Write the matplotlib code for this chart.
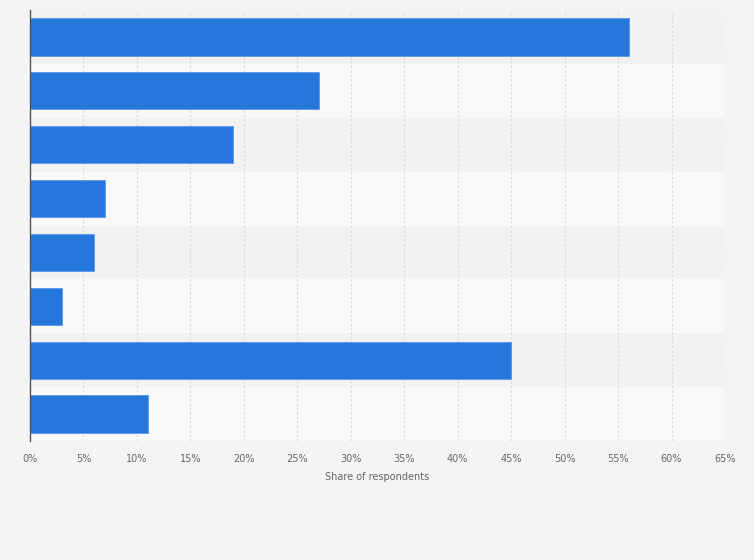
import numpy as np
import matplotlib
matplotlib.use("Agg")
import matplotlib.pyplot as plt
from matplotlib.ticker import FuncFormatter

# category names are not shown in the chart
categories = ["A", "B", "C", "D", "E", "F", "G", "H"]
shares = [56, 27, 19, 7, 6, 3, 45, 11]
xticks = list(range(0, 70, 5))

fig = plt.figure(figsize=(7.54, 5.6), dpi=100, facecolor="#f4f4f4")
ax = fig.add_axes([30 / 754, 1 - 441 / 560, 695 / 754, 431 / 560])
ax.set_facecolor("#f9f9f9")

n = len(categories)
y = np.arange(n)

# alternating row bands
for i in range(n):
    ax.axhspan(i - 0.5, i + 0.5, color="#f2f2f2" if i % 2 == 0 else "#f9f9f9", zorder=0, lw=0)

ax.barh(y, shares, height=0.69, color="#2776db", edgecolor="#5a98e6", linewidth=0.6, zorder=3)

ax.set_ylim(n - 0.5, -0.5)
ax.set_xlim(0, 65)
ax.set_xticks(xticks)
ax.xaxis.set_major_formatter(FuncFormatter(lambda v, p: f"{v:.0f}%"))
ax.set_yticks([])
ax.grid(axis="x", color="#d8d8d8", linestyle=(0, (2, 2)), linewidth=0.8, zorder=1)
ax.tick_params(axis="x", length=0, labelsize=7, colors="#666666", pad=9)

for s in ["top", "right", "bottom"]:
    ax.spines[s].set_visible(False)
ax.spines["left"].set_color("#555555")
ax.spines["left"].set_linewidth(1)
ax.spines["left"].set_zorder(4)

ax.set_xlabel("Share of respondents", fontsize=7, color="#666666", labelpad=6)

fig.savefig("out.png", dpi=100, facecolor=fig.get_facecolor())
